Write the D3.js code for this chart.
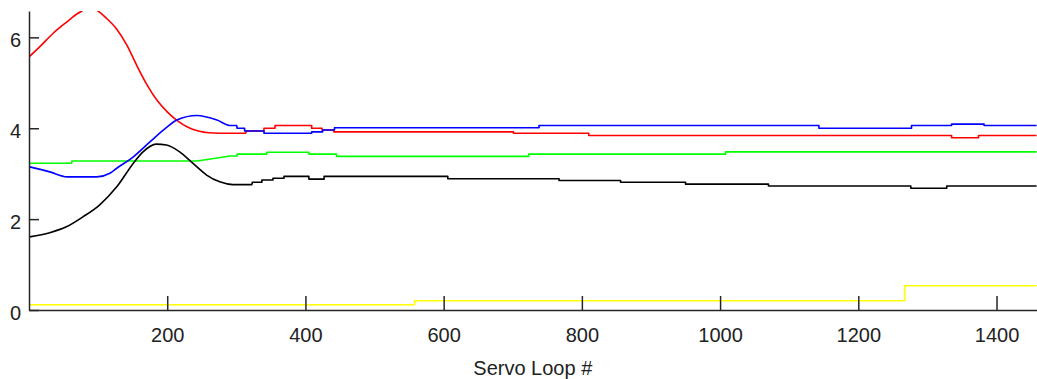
<!DOCTYPE html>
<html>
<head>
<meta charset="utf-8">
<script src="https://cdn.jsdelivr.net/npm/d3@7"></script>
<style>
  html, body { margin: 0; padding: 0; background: #fff; }
  svg { display: block; }
  .axis text { font-family: "Liberation Sans", Arial, sans-serif; font-size: 20px; fill: #222; }
  .axis path, .axis line { stroke: #262626; stroke-width: 1.5; }
</style>
</head>
<body>
<svg id="chart" width="1037" height="379"></svg>
<script>
// ---- data (loop index, value) ----
const xTicks = [200, 400, 600, 800, 1000, 1200, 1400];
const yTicks = [0, 2, 4, 6];
const xLabel = "Servo Loop #";

const redSeries = [[1,5.58],[16,5.80],[35,6.09],[54,6.33],[71,6.53],[90,6.66],[98,6.60],[112,6.42],[127,6.18],[142,5.82],[156,5.38],[171,4.95],[185,4.62],[200,4.36],[215,4.16],[230,4.02],[245,3.94],[260,3.90],[275,3.89],[314,3.89],[314,3.94],[340,3.94],[340,4.00],[356,4.00],[356,4.06],[409,4.06],[409,4.00],[424,4.00],[424,3.96],[441,3.96],[441,3.92],[701,3.92],[701,3.89],[810,3.89],[810,3.84],[1335,3.84],[1335,3.79],[1374,3.79],[1374,3.84],[1458,3.84]];

const blueSeries = [[1,3.15],[30,3.04],[55,2.93],[98,2.93],[117,3.01],[127,3.12],[151,3.37],[175,3.70],[200,4.03],[214,4.18],[243,4.28],[272,4.18],[291,4.06],[301,4.06],[301,4.00],[312,4.00],[312,3.94],[340,3.94],[340,3.89],[409,3.89],[409,3.92],[425,3.92],[425,3.96],[442,3.96],[442,4.01],[738,4.01],[738,4.06],[1143,4.06],[1143,4.00],[1277,4.00],[1277,4.06],[1335,4.06],[1335,4.09],[1382,4.09],[1382,4.06],[1458,4.06]];

const greenSeries = [[1,3.23],[62,3.23],[62,3.28],[243,3.28],[265,3.33],[291,3.39],[301,3.39],[301,3.43],[344,3.43],[344,3.47],[405,3.47],[405,3.43],[445,3.43],[445,3.38],[723,3.38],[723,3.43],[1008,3.43],[1008,3.48],[1458,3.48]];

const blackSeries = [[1,1.61],[30,1.70],[54,1.83],[78,2.05],[102,2.31],[127,2.71],[151,3.23],[165,3.48],[184,3.65],[199,3.63],[218,3.48],[237,3.23],[257,2.97],[276,2.82],[295,2.76],[323,2.76],[323,2.81],[337,2.81],[337,2.86],[353,2.86],[353,2.90],[369,2.90],[369,2.94],[405,2.94],[405,2.88],[427,2.88],[427,2.94],[606,2.94],[606,2.89],[767,2.89],[767,2.85],[856,2.85],[856,2.81],[950,2.81],[950,2.77],[1070,2.77],[1070,2.73],[1276,2.73],[1276,2.68],[1328,2.68],[1328,2.73],[1458,2.73]];

const yellowSeries = [[1,0.117],[558,0.117],[558,0.205],[1267,0.205],[1267,0.535],[1458,0.535]];

const seriesList = [
  { data: yellowSeries, color: "#ffff00" },
  { data: greenSeries,  color: "#00ff00" },
  { data: blackSeries,  color: "#000000" },
  { data: redSeries,    color: "#ff0000" },
  { data: blueSeries,   color: "#0000ff" }
];

// ---- layout ----
const svg = d3.select("#chart");
const mLeft = 29, mTop = 11, mRight = 1036.6, mBottom = 310;

const x = d3.scaleLinear().domain([0, 1458]).range([mLeft, mRight]);
const y = d3.scaleLinear().domain([0, 6.58]).range([mBottom, mTop]);

svg.append("defs").append("clipPath").attr("id", "plotclip")
  .append("rect").attr("x", mLeft).attr("y", mTop)
  .attr("width", mRight - mLeft + 1).attr("height", mBottom - mTop);

const smoothLine = d3.line().x(d => x(d[0])).y(d => y(d[1])).curve(d3.curveMonotoneX);
const stepLine = d3.line().x(d => x(d[0])).y(d => y(d[1]));

const g = svg.append("g").attr("clip-path", "url(#plotclip)");
seriesList.forEach(s => {
  // smooth leading part: points until the first vertical step
  let i = 0;
  while (i < s.data.length - 1 && s.data[i][0] !== s.data[i + 1][0]) i++;
  const smooth = s.data.slice(0, i + 1);
  const rest = s.data.slice(i);
  [[smooth, smoothLine], [rest, stepLine]].forEach(([pts, gen]) => {
    if (pts.length < 2) return;
    g.append("path").datum(pts)
      .attr("d", gen)
      .attr("fill", "none")
      .attr("stroke", s.color)
      .attr("stroke-width", 1.6)
      .attr("stroke-linejoin", "round");
  });
});

// axes
const xAxis = d3.axisBottom(x).tickValues(xTicks).tickFormat(d3.format("d"))
  .tickSizeInner(-14).tickSizeOuter(0).tickPadding(18);
const yAxis = d3.axisLeft(y).tickValues(yTicks).tickFormat(d3.format("d"))
  .tickSizeInner(-10).tickSizeOuter(0).tickPadding(8);

svg.append("g").attr("class", "axis").attr("transform", `translate(0,${mBottom})`).call(xAxis);
const gy = svg.append("g").attr("class", "axis").attr("transform", `translate(${mLeft},0)`).call(yAxis);
gy.selectAll("text").attr("dy", "0.47em");

svg.append("text")
  .attr("x", (mLeft + mRight) / 2)
  .attr("y", 375)
  .attr("text-anchor", "middle")
  .style("font-family", "\"Liberation Sans\", Arial, sans-serif")
  .style("font-size", "20px")
  .style("fill", "#222")
  .text(xLabel);
</script>
</body>
</html>
